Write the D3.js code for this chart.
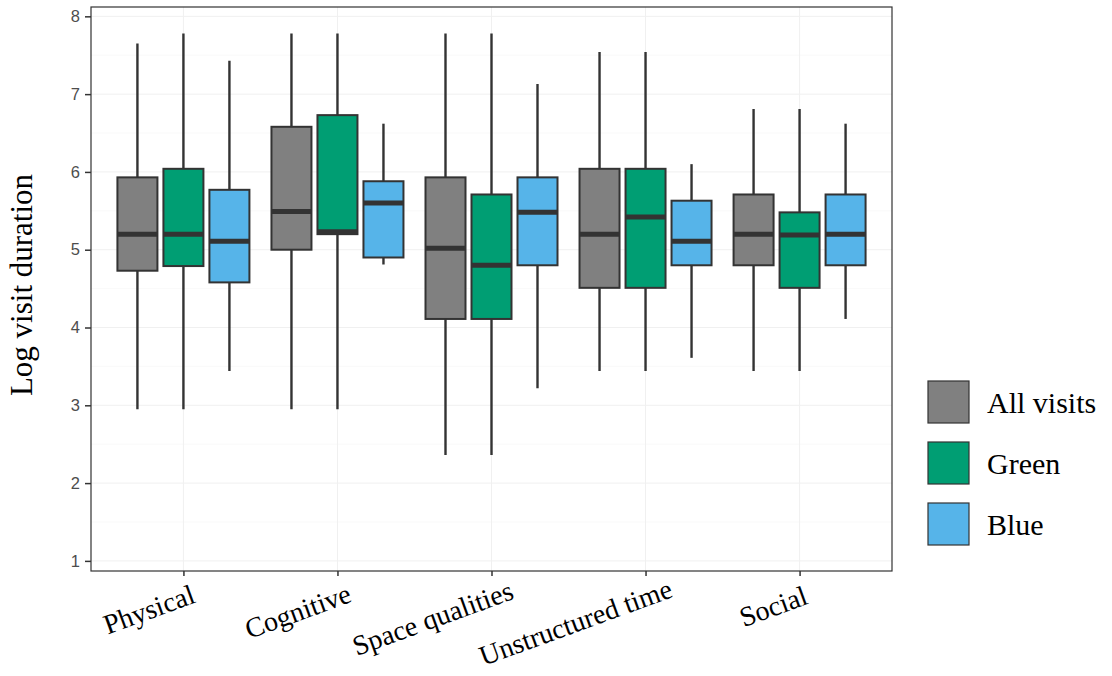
<!DOCTYPE html>
<html>
    <head>
        <meta charset="utf-8">
        <script type="text/javascript" src="https://d3js.org/d3.v7.min.js" charset="utf-8"></script>
        <style>
            body { margin: 0; background: #ffffff; }
        </style>
    </head>
    <body>
        <script>
            // categories and groups
            const CATEGORIES = ['Physical', 'Cognitive', 'Space qualities', 'Unstructured time', 'Social'];
            const GROUPS = ['All visits', 'Green', 'Blue'];

            // box stats per category: [lower whisker, q1, median, q3, upper whisker]
            const ALL_VISITS = [
                [2.95, 4.73, 5.20, 5.93, 7.65],
                [2.95, 5.00, 5.49, 6.58, 7.78],
                [2.36, 4.11, 5.02, 5.93, 7.78],
                [3.44, 4.51, 5.20, 6.04, 7.54],
                [3.44, 4.80, 5.20, 5.71, 6.81]
            ];
            const GREEN = [
                [2.95, 4.79, 5.20, 6.04, 7.78],
                [2.95, 5.20, 5.23, 6.73, 7.78],
                [2.36, 4.11, 4.80, 5.71, 7.78],
                [3.44, 4.51, 5.42, 6.04, 7.54],
                [3.44, 4.51, 5.19, 5.48, 6.81]
            ];
            const BLUE = [
                [3.44, 4.58, 5.11, 5.77, 7.43],
                [4.81, 4.90, 5.60, 5.88, 6.62],
                [3.22, 4.80, 5.48, 5.93, 7.13],
                [3.61, 4.80, 5.11, 5.63, 6.10],
                [4.11, 4.80, 5.20, 5.71, 6.62]
            ];
            const Y_TICKS = [1, 2, 3, 4, 5, 6, 7, 8];

            const WIDTH = 1112;
            const HEIGHT = 676;
            const PANEL_LEFT = 91;
            const PANEL_RIGHT = 892;
            const PANEL_TOP = 7;
            const PANEL_BOTTOM = 571;

            const FILL_COLORS = ['#808080', '#009E73', '#56B4E9'];
            const STROKE_COLOR = '#333333';
            const SERIF = '"Liberation Serif", "Times New Roman", serif';
            const SANS = '"Liberation Sans", Arial, sans-serif';

            let series = [ALL_VISITS, GREEN, BLUE];
            let dataset = [];
            CATEGORIES.forEach(function(c, i) {
                GROUPS.forEach(function(g, j) {
                    let s = series[j][i];
                    dataset.push({cat: c, group: g, gi: j,
                        lo: s[0], q1: s[1], med: s[2], q3: s[3], hi: s[4]});
                });
            });

            let svg = d3.select('body')
            .append('svg')
            .attr('width', WIDTH)
            .attr('height', HEIGHT)
            .style('background', '#ffffff');

            let xScale = d3.scalePoint()
            .domain(CATEGORIES)
            .range([PANEL_LEFT, PANEL_RIGHT])
            .padding(0.6);
            let xSub = d3.scaleBand()
            .domain(GROUPS)
            .range([-69, 69]);
            let yScale = d3.scaleLinear()
            .domain([0.87, 8.12])
            .range([PANEL_BOTTOM, PANEL_TOP]);

            // grid lines
            let grid = svg.append('g');
            let minor = Y_TICKS.slice(1).map(function(t) { return t - 0.5; });
            grid.selectAll('.minor')
            .data(minor)
            .enter()
            .append('line')
            .attr('x1', PANEL_LEFT).attr('x2', PANEL_RIGHT)
            .attr('y1', function(d) { return yScale(d); })
            .attr('y2', function(d) { return yScale(d); })
            .attr('stroke', '#f7f7f7')
            .attr('stroke-width', 0.8);
            grid.selectAll('.major')
            .data(Y_TICKS)
            .enter()
            .append('line')
            .attr('x1', PANEL_LEFT).attr('x2', PANEL_RIGHT)
            .attr('y1', function(d) { return yScale(d); })
            .attr('y2', function(d) { return yScale(d); })
            .attr('stroke', '#f0f0f0')
            .attr('stroke-width', 1);
            grid.selectAll('.vmajor')
            .data(CATEGORIES)
            .enter()
            .append('line')
            .attr('x1', function(d) { return xScale(d); })
            .attr('x2', function(d) { return xScale(d); })
            .attr('y1', PANEL_TOP).attr('y2', PANEL_BOTTOM)
            .attr('stroke', '#f0f0f0')
            .attr('stroke-width', 1);

            function cx(d) {
                return xScale(d.cat) + xSub(d.group) + xSub.bandwidth() / 2;
            }
            let boxW = xSub.bandwidth() - 6;

            let boxes = svg.append('g')
            .selectAll('g')
            .data(dataset)
            .enter()
            .append('g');

            boxes.append('line')
            .attr('x1', cx).attr('x2', cx)
            .attr('y1', function(d) { return yScale(d.hi); })
            .attr('y2', function(d) { return yScale(d.lo); })
            .attr('stroke', STROKE_COLOR)
            .attr('stroke-width', 2.4);

            boxes.append('rect')
            .attr('x', function(d) { return cx(d) - boxW / 2; })
            .attr('y', function(d) { return yScale(d.q3); })
            .attr('width', boxW)
            .attr('height', function(d) { return yScale(d.q1) - yScale(d.q3); })
            .attr('fill', function(d) { return FILL_COLORS[d.gi]; })
            .attr('stroke', STROKE_COLOR)
            .attr('stroke-width', 2);

            boxes.append('line')
            .attr('x1', function(d) { return cx(d) - boxW / 2; })
            .attr('x2', function(d) { return cx(d) + boxW / 2; })
            .attr('y1', function(d) { return yScale(d.med); })
            .attr('y2', function(d) { return yScale(d.med); })
            .attr('stroke', STROKE_COLOR)
            .attr('stroke-width', 5);

            // panel border
            svg.append('rect')
            .attr('x', PANEL_LEFT)
            .attr('y', PANEL_TOP)
            .attr('width', PANEL_RIGHT - PANEL_LEFT)
            .attr('height', PANEL_BOTTOM - PANEL_TOP)
            .attr('fill', 'none')
            .attr('stroke', STROKE_COLOR)
            .attr('stroke-width', 1.2);

            // y axis
            let yAxis = svg.append('g')
            .attr('transform', 'translate(' + PANEL_LEFT + ',0)')
            .call(d3.axisLeft(yScale).tickValues(Y_TICKS).tickSize(6).tickPadding(5));
            yAxis.select('.domain').remove();
            yAxis.selectAll('line').attr('stroke', STROKE_COLOR).attr('stroke-width', 1.5);
            yAxis.selectAll('text')
            .attr('fill', '#4d4d4d')
            .style('font-family', SANS)
            .style('font-size', '16.5px');

            // x axis
            let xAxis = svg.append('g')
            .attr('transform', 'translate(0,' + PANEL_BOTTOM + ')')
            .call(d3.axisBottom(xScale).tickSize(5).tickFormat(''));
            xAxis.select('.domain').remove();
            xAxis.selectAll('line').attr('stroke', STROKE_COLOR).attr('stroke-width', 1.5);

            let xLabels = svg.append('g')
            .selectAll('text')
            .data(CATEGORIES)
            .enter()
            .append('text')
            .attr('transform', function(d) {
                return 'translate(' + xScale(d) + ',607) rotate(-20)';
            })
            .style('font-family', SERIF)
            .style('font-size', '28px')
            .attr('fill', '#000000')
            .text(function(d) { return d; });
            xLabels.attr('x', function() {
                return -0.85 * this.getComputedTextLength();
            });

            // y title
            svg.append('text')
            .attr('transform', 'translate(32,285) rotate(-90)')
            .attr('text-anchor', 'middle')
            .style('font-family', SERIF)
            .style('font-size', '31px')
            .attr('fill', '#000000')
            .text('Log visit duration');

            // legend
            let legend = svg.append('g')
            .selectAll('g')
            .data(GROUPS)
            .enter()
            .append('g')
            .attr('transform', function(d, i) {
                return 'translate(928,' + (381 + i * 61) + ')';
            });
            legend.append('rect')
            .attr('width', 41)
            .attr('height', 42)
            .attr('fill', function(d, i) { return FILL_COLORS[i]; })
            .attr('stroke', STROKE_COLOR)
            .attr('stroke-width', 1.2);
            legend.append('text')
            .attr('x', 59)
            .attr('y', 21)
            .attr('dy', '0.35em')
            .style('font-family', SERIF)
            .style('font-size', '30px')
            .attr('fill', '#000000')
            .text(function(d) { return d; });
        </script>
    </body>
</html>
